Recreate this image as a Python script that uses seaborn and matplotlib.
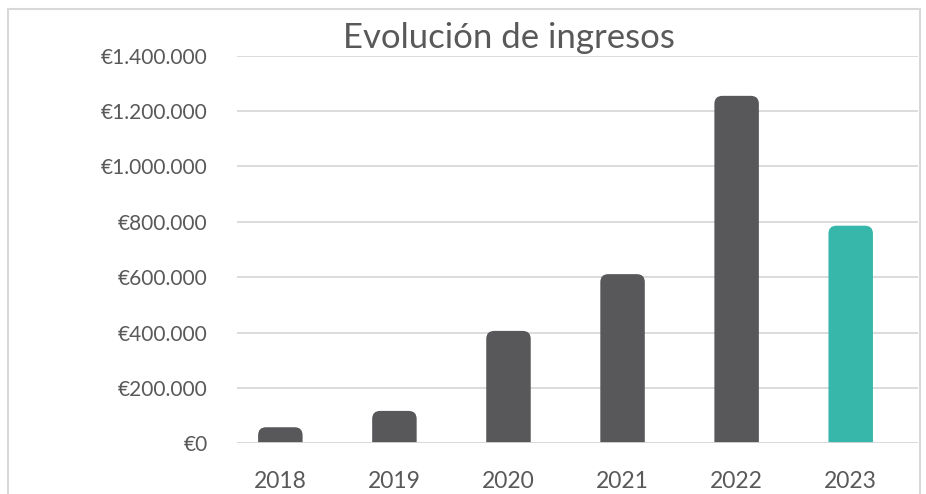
import matplotlib
matplotlib.use('Agg')
import matplotlib.pyplot as plt
import seaborn as sns
import pandas as pd
from matplotlib.patches import FancyBboxPatch, Rectangle
from matplotlib.ticker import FuncFormatter, MultipleLocator

# Data
years = ['2018', '2019', '2020', '2021', '2022', '2023']
ingresos = [58000, 117000, 406000, 611000, 1255000, 786000]
bar_colors = ['#58585A', '#58585A', '#58585A', '#58585A', '#58585A', '#37B6AA']

sns.set_theme(style='white')
plt.rcParams['font.family'] = ['Lato', 'DejaVu Sans']

df = pd.DataFrame({'year': years, 'ingresos': ingresos})

fig = plt.figure(figsize=(9.26, 4.94), dpi=100)
ax = fig.add_axes([237 / 926, 50.7 / 494, 681 / 926, 387.6 / 494])

sns.barplot(data=df, x='year', y='ingresos', hue='year', palette=bar_colors,
            saturation=1, legend=False, width=0.39, ax=ax, zorder=2)

ax.set_ylim(0, 1400000)
ax.set_xlim(-0.38, 5.59)

# rounded tops for the bars (bottom corners hidden under the axis)
px_x = 114.2
px_y = 387.6 / 1400000
r_px = 8
rx = r_px / px_x
ry = r_px / px_y
for p in list(ax.patches):
    x, w, h = p.get_x(), p.get_width(), p.get_height()
    fc = p.get_facecolor()
    p.remove()
    ax.add_patch(FancyBboxPatch((x, -ry), w, h + ry,
                                boxstyle=f'round,pad=0,rounding_size={rx}',
                                mutation_aspect=ry / rx, facecolor=fc,
                                edgecolor='none', zorder=2, clip_on=True))

ax.yaxis.set_major_locator(MultipleLocator(200000))
ax.yaxis.set_major_formatter(FuncFormatter(lambda v, _: '€' + f'{int(v):,}'.replace(',', '.')))
ax.grid(axis='y', color='#d9d9d9', linewidth=1.3, zorder=1)
ax.grid(axis='x', visible=False)
ax.axhline(0, color='#d9d9d9', linewidth=1.3, zorder=3)
for s in ax.spines.values():
    s.set_visible(False)

ax.tick_params(axis='y', length=0, pad=21, labelsize=15, labelcolor='#595959')
ax.tick_params(axis='x', length=0, pad=20, labelsize=16.5, labelcolor='#595959')
ax.set_xlabel('')
ax.set_ylabel('')

fig.text(509 / 926, 1 - 48 / 494, 'Evolución de ingresos', ha='center', va='baseline',
         fontsize=25, color='#595959')

# chart area border
fig.add_artist(Rectangle((8 / 926, -0.1), 912 / 926, 1.1 - 9 / 494,
                         transform=fig.transFigure, fill=False,
                         edgecolor='#d9d9d9', linewidth=1.5))

fig.savefig('out.png', dpi=100)
